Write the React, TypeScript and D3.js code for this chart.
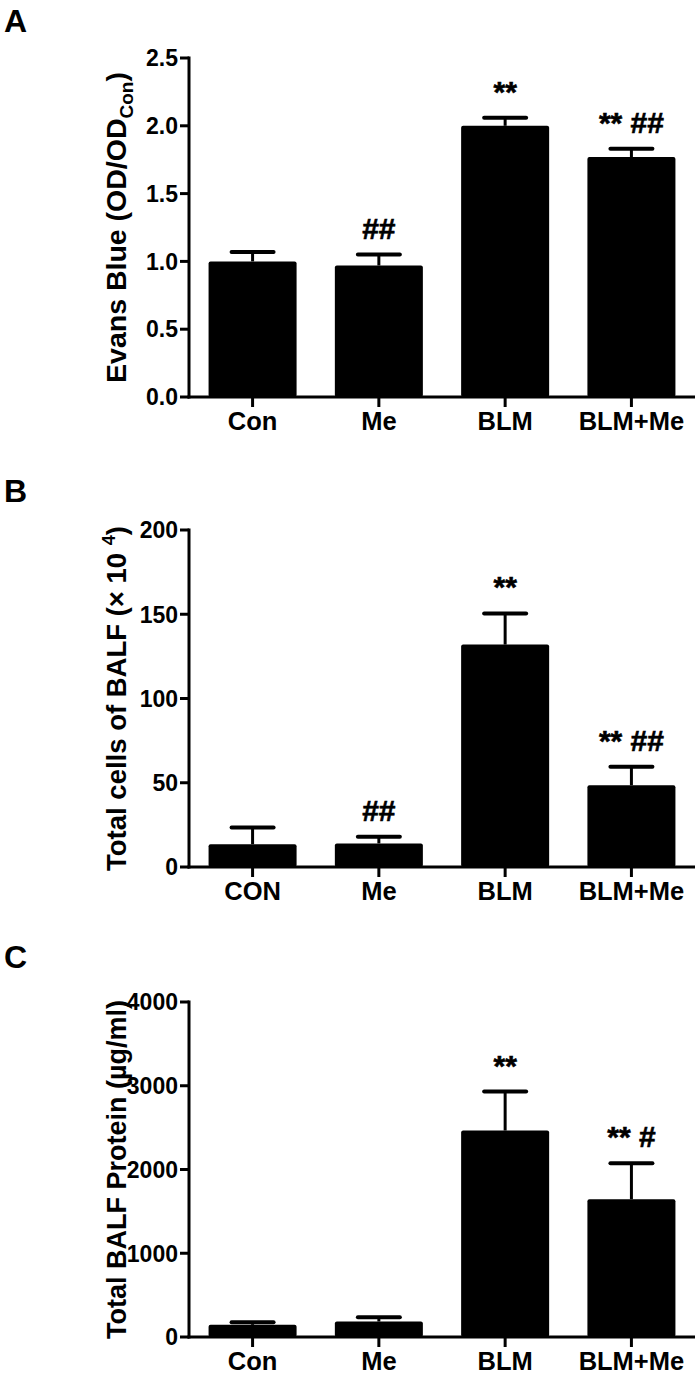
import React, { useRef, useEffect } from 'react'
import * as d3 from 'd3'

// group names
const groupsA = ['Con', 'Me', 'BLM', 'BLM+Me']
const groupsB = ['CON', 'Me', 'BLM', 'BLM+Me']
const groupsC = ['Con', 'Me', 'BLM', 'BLM+Me']

// A: Evans blue
const evansMean = [1.0, 0.97, 2.0, 1.77]
const evansErr = [0.07, 0.08, 0.06, 0.06]
const evansTicks = [0, 0.5, 1.0, 1.5, 2.0, 2.5]
const evansMarks = ['', '##', '**', '** ##']

// B: total cells
const cellsMean = [13.5, 14, 132, 48.5]
const cellsErr = [10, 4, 18.5, 11]
const cellsTicks = [0, 50, 100, 150, 200]
const cellsMarks = ['', '##', '**', '** ##']

// C: protein
const proteinMean = [145, 185, 2465, 1645]
const proteinErr = [30, 50, 465, 430]
const proteinTicks = [0, 1000, 2000, 3000, 4000]
const proteinMarks = ['', '', '**', '** #']

const FONT = "'Liberation Sans', Arial, Helvetica, sans-serif"

export default function App() {
    const ref = useRef(null)
    const W = 700
    const H = 1376

    useEffect(() => {
        const svg = d3.select(ref.current)
        svg.selectAll('*').remove()

        const drawPanel = (opts) => {
            const { letter, letterY, top, bottom, groups, mean, err, ticks, fmt, marks, label, labelSize } = opts
            const axisX = 189
            const right = 695
            const g = svg.append('g')

            const y = d3.scaleLinear()
                .domain([0, ticks[ticks.length - 1]])
                .range([bottom, top])
            const x = d3.scaleBand()
                .domain(groups)
                .range([axisX, right])
                .paddingInner(0.303)
                .paddingOuter(0.155)

            g.append('text')
                .attr('x', 4)
                .attr('y', letterY)
                .attr('font-family', FONT)
                .attr('font-weight', 'bold')
                .attr('font-size', 32)
                .text(letter)

            // bars
            g.selectAll('rect.bar')
                .data(mean)
                .enter()
                .append('rect')
                .attr('class', 'bar')
                .attr('x', (d, i) => x(groups[i]))
                .attr('y', d => y(d))
                .attr('width', x.bandwidth())
                .attr('height', d => bottom - y(d))
                .attr('rx', 2)
                .attr('fill', '#000')

            // error bars (upper)
            mean.forEach((m, i) => {
                const cx = x(groups[i]) + x.bandwidth() / 2
                const yt = y(m + err[i])
                g.append('line')
                    .attr('x1', cx).attr('x2', cx)
                    .attr('y1', y(m)).attr('y2', yt)
                    .attr('stroke', '#000').attr('stroke-width', 3)
                g.append('line')
                    .attr('x1', cx - 21).attr('x2', cx + 21)
                    .attr('y1', yt).attr('y2', yt)
                    .attr('stroke', '#000').attr('stroke-width', 4)
                    .attr('stroke-linecap', 'round')
                if (marks[i]) {
                    g.append('text')
                        .attr('x', cx)
                        .attr('y', yt - 16)
                        .attr('text-anchor', 'middle')
                        .attr('font-family', FONT)
                        .attr('font-weight', 'bold')
                        .attr('font-size', 30)
                        .attr('stroke', '#000')
                        .attr('stroke-width', 0.6)
                        .text(marks[i])
                }
            })

            // y axis
            g.append('line')
                .attr('x1', axisX).attr('x2', axisX)
                .attr('y1', top - 1.5).attr('y2', bottom + 1.5)
                .attr('stroke', '#000').attr('stroke-width', 3)
            ticks.forEach(t => {
                g.append('line')
                    .attr('x1', axisX - 9).attr('x2', axisX)
                    .attr('y1', y(t)).attr('y2', y(t))
                    .attr('stroke', '#000').attr('stroke-width', 3)
                g.append('text')
                    .attr('x', axisX - 11)
                    .attr('y', y(t))
                    .attr('dy', '0.36em')
                    .attr('text-anchor', 'end')
                    .attr('font-family', FONT)
                    .attr('font-weight', 'bold')
                    .attr('font-size', 23)
                    .text(fmt(t))
            })

            // x axis
            g.append('line')
                .attr('x1', axisX - 1.5).attr('x2', right)
                .attr('y1', bottom).attr('y2', bottom)
                .attr('stroke', '#000').attr('stroke-width', 3)
            groups.forEach(c => {
                const cx = x(c) + x.bandwidth() / 2
                g.append('line')
                    .attr('x1', cx).attr('x2', cx)
                    .attr('y1', bottom).attr('y2', bottom + 10)
                    .attr('stroke', '#000').attr('stroke-width', 3)
                g.append('text')
                    .attr('x', cx)
                    .attr('y', bottom + 33)
                    .attr('text-anchor', 'middle')
                    .attr('font-family', FONT)
                    .attr('font-weight', 'bold')
                    .attr('font-size', 25.5)
                    .text(c)
            })

            // y label
            const lab = g.append('text')
                .attr('transform', `translate(126,${(top + bottom) / 2}) rotate(-90)`)
                .attr('text-anchor', 'middle')
                .attr('font-family', FONT)
                .attr('font-weight', 'bold')
                .attr('font-size', labelSize)
            label(lab)
        }

        drawPanel({
            letter: 'A', letterY: 32, top: 58, bottom: 397,
            groups: groupsA, mean: evansMean, err: evansErr,
            ticks: evansTicks, fmt: d3.format('.1f'), marks: evansMarks,
            labelSize: 28.5,
            label: (t) => {
                t.append('tspan').text('Evans Blue (OD/OD')
                t.append('tspan').attr('font-size', 19).attr('dy', 7).text('Con')
                t.append('tspan').attr('dy', -7).text(')')
            }
        })
        drawPanel({
            letter: 'B', letterY: 502, top: 530, bottom: 867,
            groups: groupsB, mean: cellsMean, err: cellsErr,
            ticks: cellsTicks, fmt: d3.format('d'), marks: cellsMarks,
            labelSize: 27.5,
            label: (t) => {
                t.append('tspan').text('Total cells of BALF (\u00d7 10 ')
                t.append('tspan').attr('font-size', 18).attr('dy', -11).text('4')
                t.append('tspan').attr('dy', 11).text(')')
            }
        })
        drawPanel({
            letter: 'C', letterY: 968, top: 1002, bottom: 1337,
            groups: groupsC, mean: proteinMean, err: proteinErr,
            ticks: proteinTicks, fmt: d3.format('d'), marks: proteinMarks,
            labelSize: 27,
            label: (t) => {
                t.append('tspan').text('Total BALF Protein (\u00b5g/ml)')
            }
        })
    }, [])

    return (
        <div className="parent">
            <svg ref={ref} width={W} height={H}
                style={{ position: 'absolute', left: 0, top: 0, background: '#fff' }} />
        </div>
    )
}
